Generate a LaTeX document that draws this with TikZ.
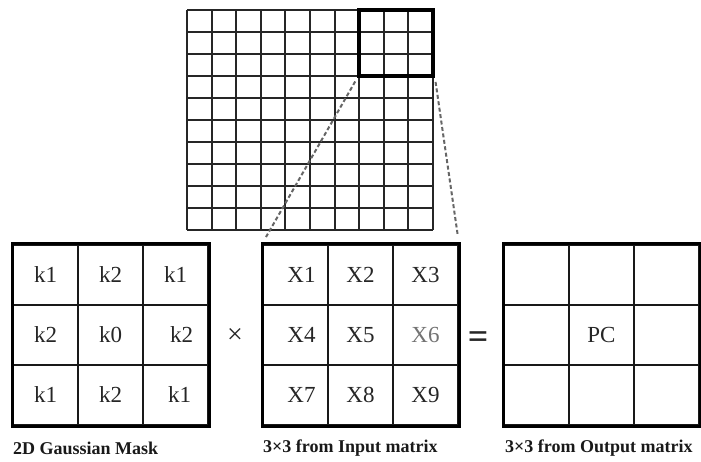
\documentclass[tikz,border=0pt]{standalone}
\usepackage{fontspec}
\setmainfont{Liberation Serif}
\usepackage{tikz}
\usetikzlibrary{positioning}
\tikzset{
  cell/.style={
    draw=black!90,
    line width=2pt,
    minimum width=65pt,
    minimum height=60pt,
    inner sep=0pt,
    text=black!85,
    font=\fontsize{23}{26}\selectfont
  },
  matbox/.style={draw, line width=3pt},
  gridline/.style={draw=black!85, line width=1.9pt},
  window/.style={
    draw,
    line width=4pt,
    minimum width=73.8pt,
    minimum height=66pt,
    inner sep=0pt
  },
  zoomline/.style={draw=black!60, line width=2pt, dash pattern=on 4pt off 2.5pt},
  caption/.style={anchor=west, inner sep=0pt, text=black!90, font=\fontsize{18}{20}\selectfont\bfseries},
  opsign/.style={inner sep=0pt, text=black!85}
}

\begin{document}
\begin{tikzpicture}[x=1pt,y=1pt]
  \useasboundingbox (0,0) rectangle (701,461);

  % input image grid
  \foreach \i in {0,...,10} {
    \draw[gridline] ({187+24.6*\i},231) -- ({187+24.6*\i},451);
    \draw[gridline] (187,{231+22*\i}) -- (433,{231+22*\i});
  }
  \node[window] (win) at (396.1,418) {};

  % mask
  \node[cell] (mask-1-1) at (45.5,186) {k1};
  \node[cell] (mask-1-2) at (110.5,186) {k2};
  \node[cell] (mask-1-3) at (175.5,186) {k1};
  \node[cell] (mask-2-1) at (45.5,126) {k2};
  \node[cell] (mask-2-2) at (110.5,126) {k0};
  \node[cell] (mask-2-3) at (175.5,126) {\hspace{12pt}k2};
  \node[cell] (mask-3-1) at (45.5,66) {k1};
  \node[cell] (mask-3-2) at (110.5,66) {k2};
  \node[cell] (mask-3-3) at (175.5,66) {\hspace{8pt}k1};
  \draw[matbox] (mask-1-1.north west) rectangle (mask-3-3.south east);

  % input window
  \node[cell] (in-1-1) at (295.5,186) {\hspace{12pt}X1};
  \node[cell] (in-1-2) at (360.5,186) {X2};
  \node[cell] (in-1-3) at (425.5,186) {X3};
  \node[cell] (in-2-1) at (295.5,126) {\hspace{12pt}X4};
  \node[cell] (in-2-2) at (360.5,126) {X5};
  \node[cell, text=black!55] (in-2-3) at (425.5,126) {X6};
  \node[cell] (in-3-1) at (295.5,66) {\hspace{12pt}X7};
  \node[cell] (in-3-2) at (360.5,66) {X8};
  \node[cell] (in-3-3) at (425.5,66) {X9};
  \draw[matbox] (in-1-1.north west) rectangle (in-3-3.south east);

  % output
  \node[cell] (out-1-1) at (536.5,186) {};
  \node[cell] (out-1-2) at (601.5,186) {};
  \node[cell] (out-1-3) at (666.5,186) {};
  \node[cell] (out-2-1) at (536.5,126) {};
  \node[cell] (out-2-2) at (601.5,126) {PC};
  \node[cell] (out-2-3) at (666.5,126) {};
  \node[cell] (out-3-1) at (536.5,66) {};
  \node[cell] (out-3-2) at (601.5,66) {};
  \node[cell] (out-3-3) at (666.5,66) {};
  \draw[matbox] (out-1-1.north west) rectangle (out-3-3.south east);

  % operators
  \node[opsign, font=\fontsize{28}{28}\selectfont] (times) at (235,125) {×};
  \node[opsign, font=\fontsize{36}{36}\selectfont\bfseries] (equals) at (478,121) {=};

  % zoom lines
  \draw[zoomline, shorten <=4pt, shorten >=8pt] (win.south west) -- (in-1-1.north west);
  \draw[zoomline, shorten <=4pt, shorten >=8pt] (win.south east) -- (in-1-3.north east);

  % captions
  \node[caption] (maskcap) at (13,13) {2D Gaussian Mask};
  \node[caption] (incap) at (263,13) {3×3 from Input matrix};
  \node[caption] (outcap) at (505,13) {3×3 from Output matrix};
\end{tikzpicture}
\end{document}
